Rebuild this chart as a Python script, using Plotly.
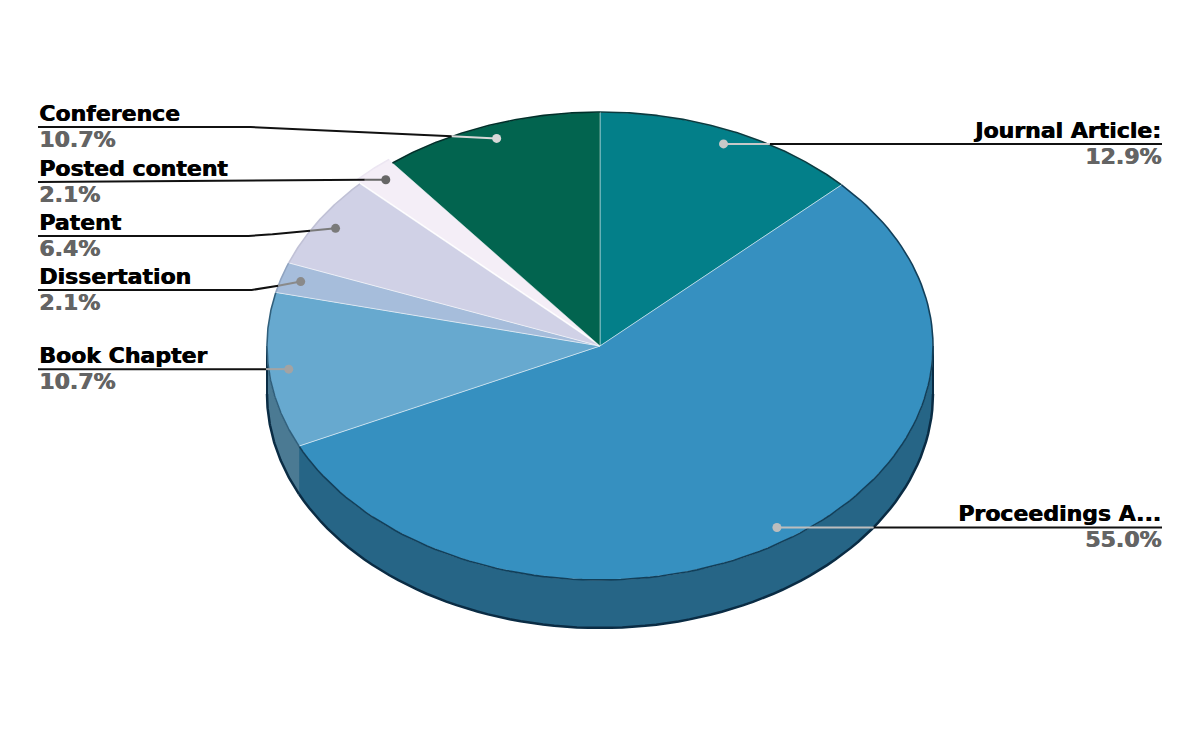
import numpy as np
import plotly.graph_objects as go

# slices, clockwise from 12 o'clock
labels = ["Journal Article:", "Proceedings A...", "Book Chapter", "Dissertation",
          "Patent", "Posted content", "Conference"]
values = [12.9, 55.0, 10.7, 2.1, 6.4, 2.1, 10.7]
colors = ["#037f89", "#3690c0", "#67a9cf", "#a6bddb", "#d0d1e6", "#f4eef7", "#02644f"]
side_colors = ["#025b61", "#266586", "#4b7a93", "#70859a", "#92939f", "#aaa6ac", "#014a3e"]
edge_colors = ["#0a3b40", "#113f5a", "#2f5f7c", "#8fa3c0", "#c0c1d6", "#ece6f2", "#00302a"]
pulls = [0, 0, 0, 0, 0, 5, 0]

# label layout (None = label line at the height of the dot)
label_side = ["right", "right", "left", "left", "left", "left", "left"]
label_y = [None, None, None, 290, 236, 182, 127]
elbow_x = [None, None, None, 255, 255, None, 255]
dot_colors = ["#c8c8c8", "#bdbdbd", "#a3a3a3", "#8a8a8a", "#7a7a7a", "#666666", "#d8d8d8"]

cx, cy, rx, ry, depth = 600, 346, 333, 234, 48
left_x, right_x = 38, 1162


def pt(t, r=1.0, dx=0.0, dy=0.0):
    return cx + dx + rx * r * np.sin(t), cy + dy - ry * r * np.cos(t)


fig = go.Figure()

total = sum(values)
bounds = np.concatenate([[0], np.cumsum(values)]) / total * 2 * np.pi
slices = []
for i, v in enumerate(values):
    t0, t1 = bounds[i], bounds[i + 1]
    tm = (t0 + t1) / 2
    dx = pulls[i] * np.sin(tm)
    dy = -pulls[i] * np.cos(tm)
    slices.append((t0, t1, tm, dx, dy))

# side walls (front half only)
for i, (t0, t1, tm, dx, dy) in enumerate(slices):
    a0, a1 = max(t0, np.pi / 2), min(t1, 3 * np.pi / 2)
    if a1 <= a0:
        continue
    ts = np.linspace(a0, a1, 80)
    x, y = pt(ts, 1, dx, dy)
    xs = np.concatenate([x, x[::-1], [x[0]]])
    ys = np.concatenate([y, y[::-1] + depth, [y[0]]])
    fig.add_trace(go.Scatter(x=xs, y=ys, fill="toself", fillcolor=side_colors[i],
                             mode="lines", line=dict(color=side_colors[i], width=0.5),
                             hoverinfo="skip", showlegend=False))
    # dark rim along bottom edge
    fig.add_trace(go.Scatter(x=x, y=y + depth, mode="lines",
                             line=dict(color="#0a2c44", width=2.5),
                             hoverinfo="skip", showlegend=False))
    # left / right ends of the wall
    for a in (a0, a1):
        if abs(a - np.pi / 2) < 1e-6 or abs(a - 3 * np.pi / 2) < 1e-6:
            ex, ey = pt(a, 1, dx, dy)
            fig.add_trace(go.Scatter(x=[ex, ex], y=[ey, ey + depth], mode="lines",
                                     line=dict(color="#0a2c44", width=2),
                                     hoverinfo="skip", showlegend=False))

# top faces
for i, (t0, t1, tm, dx, dy) in enumerate(slices):
    ts = np.linspace(t0, t1, 120)
    x, y = pt(ts, 1, dx, dy)
    xs = np.concatenate([[cx + dx], x, [cx + dx]])
    ys = np.concatenate([[cy + dy], y, [cy + dy]])
    fig.add_trace(go.Scatter(x=xs, y=ys, fill="toself", fillcolor=colors[i],
                             mode="lines", line=dict(color="rgba(255,255,255,0.45)", width=1),
                             hoverinfo="skip", showlegend=False))
    # outer rim of the top face
    fig.add_trace(go.Scatter(x=x, y=y, mode="lines",
                             line=dict(color=edge_colors[i], width=1.6),
                             hoverinfo="skip", showlegend=False))


def inside(x, y):
    e1 = ((x - cx) / rx) ** 2 + ((y - cy) / ry) ** 2 <= 1
    e2 = ((x - cx) / rx) ** 2 + ((y - cy - depth) / ry) ** 2 <= 1
    band = (abs(x - cx) <= rx) & (y >= cy) & (y <= cy + depth)
    return e1 or e2 or band


# leader lines, dots and labels
for i, (t0, t1, tm, dx, dy) in enumerate(slices):
    px_, py_ = pt(tm, 0.94, dx, dy)
    ly = label_y[i] if label_y[i] is not None else py_
    end = right_x if label_side[i] == "right" else left_x
    if elbow_x[i] is not None:
        path = [(px_, py_), (elbow_x[i], ly), (end, ly)]
    else:
        path = [(px_, py_), (end, ly)]
    # split the path where it leaves the pie
    pts = []
    for (ax, ay), (bx, by) in zip(path[:-1], path[1:]):
        for s in np.linspace(0, 1, 200):
            pts.append((ax + (bx - ax) * s, ay + (by - ay) * s))
    k = 0
    while k < len(pts) and inside(*pts[k]):
        k += 1
    gray = pts[:k + 1]
    black = pts[k:]
    if len(black) > 1:
        fig.add_trace(go.Scatter(x=[p[0] for p in black], y=[p[1] for p in black],
                                 mode="lines", line=dict(color="#111111", width=2),
                                 hoverinfo="skip", showlegend=False))
    if len(gray) > 1:
        fig.add_trace(go.Scatter(x=[p[0] for p in gray], y=[p[1] for p in gray],
                                 mode="lines", line=dict(color=dot_colors[i], width=2),
                                 hoverinfo="skip", showlegend=False))
    fig.add_trace(go.Scatter(x=[px_], y=[py_], mode="markers",
                             marker=dict(color=dot_colors[i], size=9),
                             hoverinfo="skip", showlegend=False))
    anchor = "right" if label_side[i] == "right" else "left"
    fig.add_annotation(x=end, y=ly, text="<b>" + labels[i] + "</b>", showarrow=False,
                       xanchor=anchor, yanchor="bottom", yshift=0, borderpad=0,
                       font=dict(family="DejaVu Sans", size=22, color="#000000",
                                 shadow="0.7px 0 0 #000000"))
    fig.add_annotation(x=end, y=ly, text="<b>%.1f%%</b>" % values[i], showarrow=False,
                       xanchor=anchor, yanchor="top", yshift=1, borderpad=0,
                       font=dict(family="DejaVu Sans", size=22, color="#646464",
                                 shadow="0.7px 0 0 #646464"))

# the page body has an 8px margin, so the plot area is 1184x726 at (8, 8)
fig.update_layout(
    margin=dict(l=0, r=0, t=0, b=0),
    paper_bgcolor="white",
    plot_bgcolor="white",
    xaxis=dict(range=[8, 1192], visible=False, fixedrange=True),
    yaxis=dict(range=[734, 8], visible=False, fixedrange=True),
    showlegend=False,
)

fig.write_html("out.html")
